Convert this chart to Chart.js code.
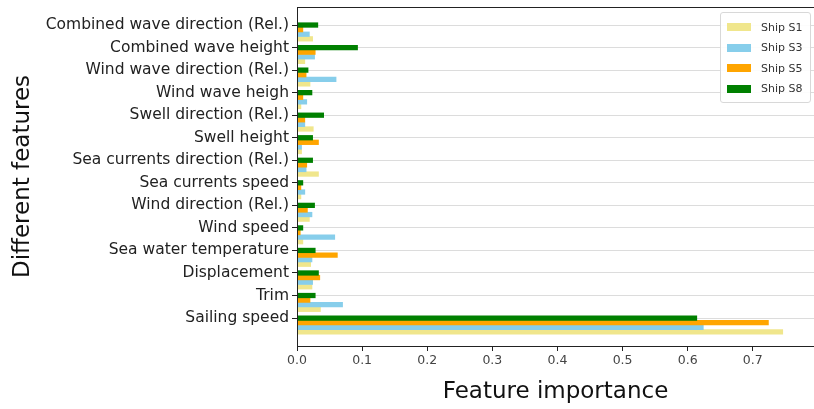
<!DOCTYPE html>
<html>
<head>
<meta charset="utf-8">
<script src="https://cdn.jsdelivr.net/npm/chart.js@4/dist/chart.umd.min.js"></script>
<style>
  html, body { margin: 0; padding: 0; background: #fff; }
  #wrap { position: relative; width: 814px; height: 409px; }
  #legend {
    position: absolute; left: 720px; top: 12px; width: 91px;
    border: 1px solid #d8d8d8; border-radius: 3px; background: rgba(255,255,255,0.9);
    font: 11px "DejaVu Sans", sans-serif; color: #333; padding: 4px 0 3px 0; box-sizing: border-box;
  }
  #legend div { display: flex; align-items: center; height: 20.5px; padding-left: 6px; }
  #legend span.sw { display: inline-block; width: 24px; height: 8px; margin-right: 10px; }
</style>
</head>
<body>
<div id="wrap">
  <canvas id="chart" width="814" height="409"></canvas>
  <div id="legend"></div>
</div>
<script>
const features = ['Combined wave direction (Rel.)', 'Combined wave height', 'Wind wave direction (Rel.)',
  'Wind wave heigh', 'Swell direction (Rel.)', 'Swell height', 'Sea currents direction (Rel.)',
  'Sea currents speed', 'Wind direction (Rel.)', 'Wind speed', 'Sea water temperature',
  'Displacement', 'Trim', 'Sailing speed'];

const shipS1 = [0.024, 0.012, 0.020, 0.006, 0.025, 0.007, 0.033, 0.006, 0.019, 0.009, 0.021, 0.023, 0.036, 0.746];
const shipS3 = [0.019, 0.027, 0.060, 0.015, 0.012, 0.007, 0.014, 0.012, 0.023, 0.058, 0.023, 0.024, 0.070, 0.624];
const shipS5 = [0.009, 0.028, 0.014, 0.009, 0.012, 0.033, 0.015, 0.006, 0.016, 0.005, 0.062, 0.035, 0.020, 0.724];
const shipS8 = [0.032, 0.093, 0.017, 0.023, 0.041, 0.024, 0.024, 0.009, 0.027, 0.009, 0.028, 0.033, 0.028, 0.614];

const xTicks = [0, 0.1, 0.2, 0.3, 0.4, 0.5, 0.6, 0.7];

const ships = [
  { name: 'Ship S1', values: shipS1, color: '#f0e68c' },
  { name: 'Ship S3', values: shipS3, color: '#87ceeb' },
  { name: 'Ship S5', values: shipS5, color: '#ffa500' },
  { name: 'Ship S8', values: shipS8, color: '#008000' },
];

document.addEventListener('DOMContentLoaded', function () {
  // empty slots so the first real bar (S8) sits on the tick, like matplotlib's offset bars
  const spacers = [0, 1, 2].map(() => ({ label: '', data: [], backgroundColor: 'transparent' }));
  const bars = ships.slice().reverse().map(s => ({
    label: s.name,
    data: s.values.map((v, i) => ({ x: v, y: i })),
    backgroundColor: s.color,
    borderWidth: 0,
  }));

  const frame = {
    id: 'frame',
    afterDraw(chart) {
      const { ctx, chartArea: a } = chart;
      ctx.save();
      ctx.strokeStyle = '#222';
      ctx.lineWidth = 1;
      ctx.strokeRect(a.left + 0.5, a.top + 0.5, a.right - a.left, a.bottom - a.top);
      ctx.restore();
    },
  };

  new Chart(document.getElementById('chart').getContext('2d'), {
    type: 'bar',
    data: { datasets: spacers.concat(bars) },
    options: {
      responsive: false,
      animation: false,
      indexAxis: 'y',
      barThickness: 4.6,
      layout: { padding: { top: 7, right: 0, left: 0, bottom: 0 } },
      plugins: { legend: { display: false }, tooltip: { enabled: false } },
      scales: {
        y: {
          type: 'linear',
          reverse: true,
          min: -0.8,
          max: 14.24,
          offset: false,
          afterBuildTicks: s => { s.ticks = features.map((_, i) => ({ value: i })); },
          afterFit: s => { s.width = 297; s.paddingTop = 0; s.paddingBottom = 0; },
          grid: { offset: false, color: '#dcdcdc', tickColor: '#222', tickLength: 5 },
          border: { color: '#222' },
          ticks: {
            autoSkip: false,
            color: '#222', padding: 3,
            font: { family: 'DejaVu Sans', size: 15.5 },
            callback: v => features[v],
          },
          title: { display: true, text: 'Different features', color: '#111', font: { family: 'DejaVu Sans', size: 23 }, padding: { top: 9, bottom: 0 } },
        },
        x: {
          type: 'linear',
          min: 0,
          max: 0.794,
          afterBuildTicks: s => { s.ticks = xTicks.map(v => ({ value: v })); },
          afterFit: s => { s.height = 63; s.paddingLeft = 0; s.paddingRight = 0; },
          grid: { drawOnChartArea: false, tickColor: '#222', tickLength: 5 },
          border: { color: '#222' },
          ticks: {
            color: '#444', padding: 2,
            font: { family: 'DejaVu Sans', size: 12.5 },
            callback: v => v.toFixed(1),
          },
          title: { display: true, text: 'Feature importance', color: '#111', font: { family: 'DejaVu Sans', size: 23 }, padding: { top: 0, bottom: 3 } },
        },
      },
    },
    plugins: [frame],
  });

  const legend = document.getElementById('legend');
  ships.forEach(s => {
    const row = document.createElement('div');
    row.innerHTML = '<span class="sw" style="background:' + s.color + '"></span>' + s.name;
    legend.appendChild(row);
  });
});
</script>
</body>
</html>
